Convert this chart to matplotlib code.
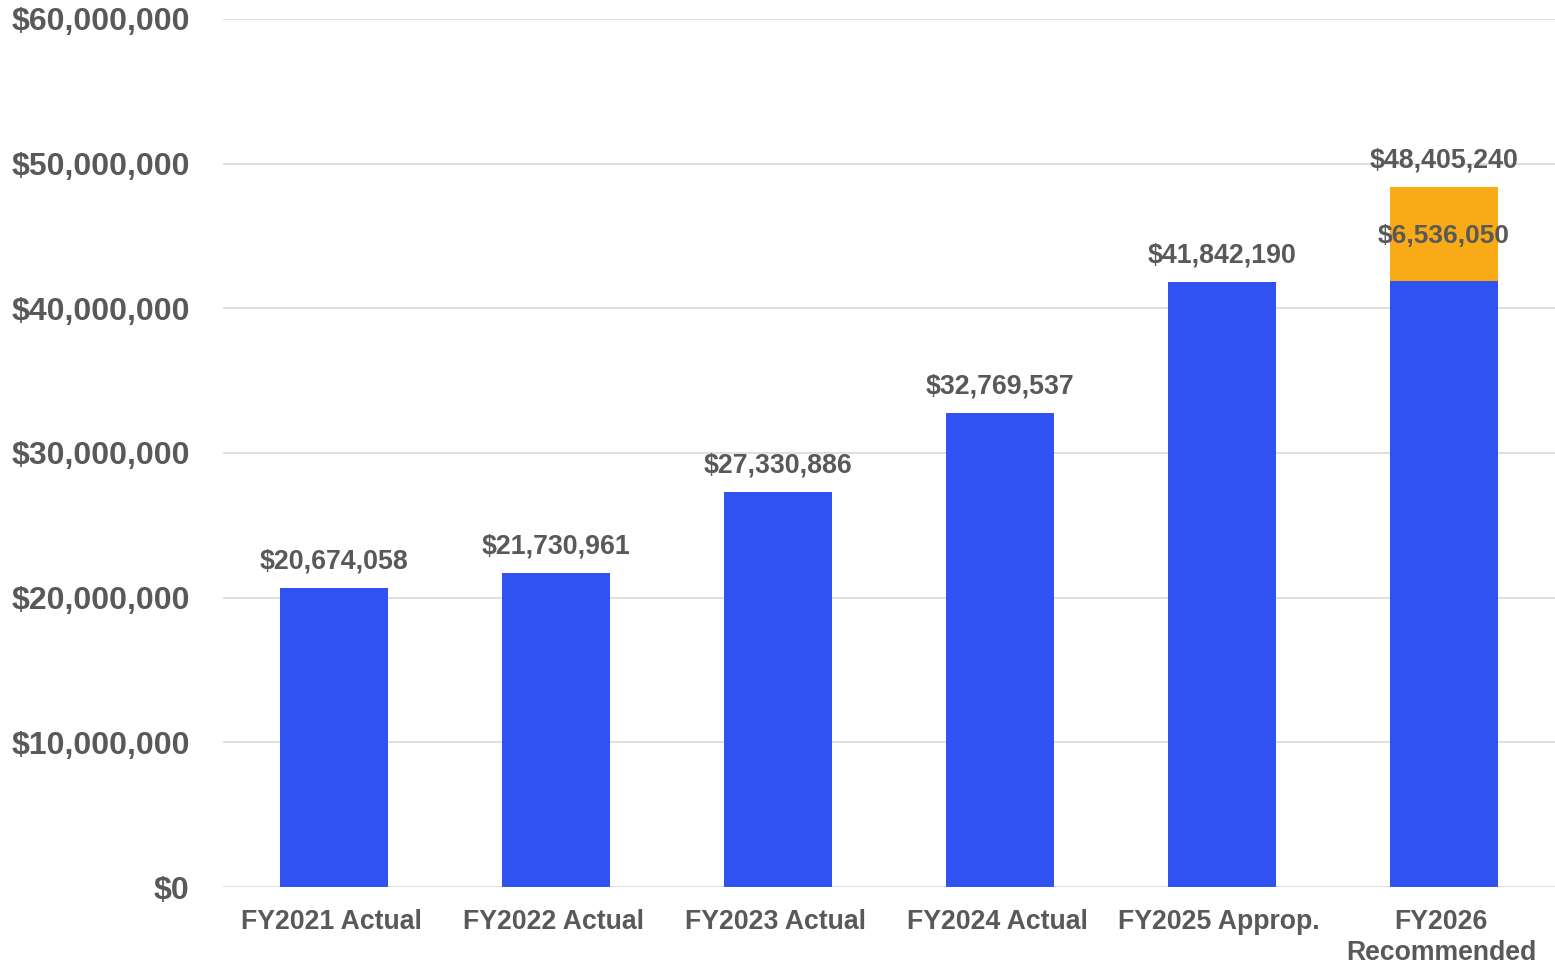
import numpy as np
import matplotlib.pyplot as plt
import matplotlib.transforms as mtransforms

plt.rcParams['font.family'] = ['Liberation Sans', 'DejaVu Sans']
plt.rcParams['font.weight'] = 'bold'

# Budget by fiscal year
categories = ['FY2021 Actual', 'FY2022 Actual', 'FY2023 Actual', 'FY2024 Actual',
              'FY2025 Approp.', 'FY2026\nRecommended']
base_values = [20674058, 21730961, 27330886, 32769537, 41842190, 41869190]
increase_values = [0, 0, 0, 0, 0, 6536050]
total_values = [20674058, 21730961, 27330886, 32769537, 41842190, 48405240]

blue = '#3052F0'
orange = '#F9AB17'
text_col = '#595959'

fig = plt.figure(figsize=(15.55, 9.63), dpi=100)
ax = fig.add_axes([0.1435, 0.0789, 0.8565, 0.9014])

x = np.arange(len(categories))
ax.bar(x, base_values, width=0.486, color=blue, zorder=3)
ax.bar(x, increase_values, width=0.486, bottom=base_values, color=orange, zorder=3)

# Total labels above the bars
for xi, total in zip(x, total_values):
    ax.annotate(f'${total:,.0f}', (xi, total), xytext=(0, 19), textcoords='offset points',
                ha='center', va='center', fontsize=19.3, color=text_col, fontweight='bold')

# Increase label inside the orange segment
for xi, b, inc in zip(x, base_values, increase_values):
    if inc > 0:
        ax.text(xi, b + inc / 2, f'${inc:,.0f}', ha='center', va='center_baseline',
                fontsize=18.9, color=text_col, fontweight='bold', zorder=4)

ax.set_xlim(-0.5, 5.5)
ax.set_ylim(0, 60000000)
ax.set_yticks(np.arange(0, 60000001, 10000000))
ax.yaxis.set_major_formatter(plt.FuncFormatter(lambda v, p: f'${v:,.0f}'))
ax.set_xticks(x)
ax.set_xticklabels(categories, linespacing=1.27)

ax.grid(axis='y', color='#D9D9D9', linewidth=1.2, zorder=0)
for s in ax.spines.values():
    s.set_visible(False)
ax.tick_params(axis='both', length=0)
ax.tick_params(axis='y', labelsize=23, labelcolor=text_col, pad=24)
ax.tick_params(axis='x', labelsize=19.2, labelcolor=text_col, pad=15.5)
shift = mtransforms.ScaledTranslation(-3 / 100, 0, fig.dpi_scale_trans)
for lbl in ax.get_xticklabels():
    lbl.set_fontweight('bold')
    lbl.set_transform(lbl.get_transform() + shift)
for lbl in ax.get_yticklabels():
    lbl.set_fontweight('bold')

fig.savefig('out.png', dpi=100)
